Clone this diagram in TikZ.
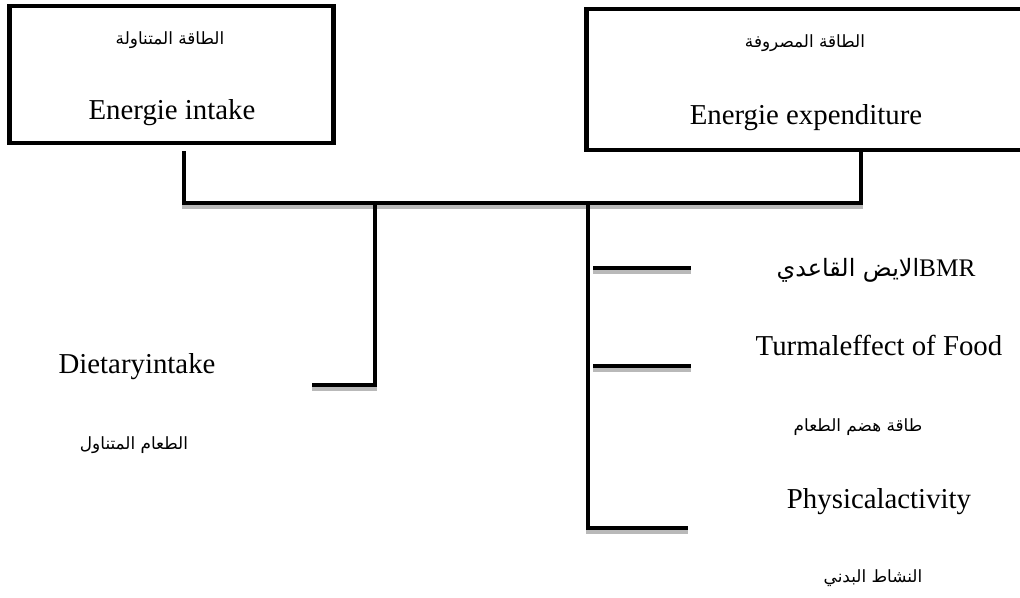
\documentclass[tikz,border=0pt]{standalone}
\usepackage{fontspec}
\setmainfont{Liberation Serif}
\newfontfamily\arabicfont[Script=Arabic]{DejaVu Sans}
\TeXXeTstate=1
\usetikzlibrary{positioning,calc}

\begin{document}
\begin{tikzpicture}[x=0.025cm, y=-0.025cm,
  box/.style={draw, line width=3.5pt, inner sep=0pt},
  link/.style={line width=3.5pt, preaction={draw=gray!55, line width=3pt, transform canvas={yshift=-2.8pt}}},
  lbl/.style={font=\fontsize{20.5}{24}\selectfont, inner sep=0pt},
  ar/.style={font=\arabicfont\fontsize{12}{14}\selectfont, inner sep=0pt}]
  \useasboundingbox (0,0) rectangle (1020,598);
  \clip (0,0) rectangle (1020,598);
  % the two boxes
  \node[box, minimum width=8.075cm, minimum height=3.425cm] (intake) at (171.5,74.5) {};
  \node[box, minimum width=11.325cm, minimum height=3.525cm] (expend) at (813.5,79.5) {};
  \node[ar] (intakeAr) at (170,40) {\beginR الطاقة المتناولة\endR};
  \node[lbl] (intakeEn) at (172,113) {Energie intake};
  \node[ar] (expendAr) at (805,43) {\beginR الطاقة المصروفة\endR};
  \node[lbl] (expendEn) at (806,118) {Energie expenditure};
  % left branch labels
  \node[lbl] (diet) at (137,367) {Dietaryintake};
  \node[ar] (dietAr) at (134,445) {\beginR الطعام المتناول\endR};
  % right branch labels
  \node[lbl] (bmr) at (876,270) {{\arabicfont\fontsize{17}{20}\selectfont\beginR الايض القاعدي\endR}{\fontsize{18}{20}\selectfont BMR}};
  \node[lbl] (tef) at (879,345) {Turmaleffect of Food};
  \node[ar] (tefAr) at (858,427) {\beginR طاقة هضم الطعام\endR};
  \node[lbl] (pa) at (879,502) {Physicalactivity};
  \node[ar] (paAr) at (873,578) {\beginR النشاط البدني\endR};
  % connectors
  \coordinate (busL) at (184,203);
  \coordinate (busR) at (861,203);
  \coordinate (trunk) at (588,203);
  \coordinate (dietEnd) at (312,385);
  \coordinate (paEnd) at (688,528);
  \draw[link] (intake.south -| busL) ++(0,6) -- (busL) -- (busR) -- (expend.south -| busR);
  \draw[link] (375,203) |- (dietEnd);
  \draw[link] (trunk) |- (paEnd);
  \foreach \y/\n in {268/bmr,366/tef}{
    \coordinate (\n Stub) at (593,\y);
    \draw[link] (\n Stub) -- ++(98,0);
  }
\end{tikzpicture}
\end{document}
